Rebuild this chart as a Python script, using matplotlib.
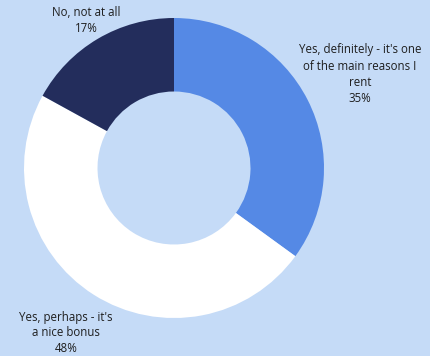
import matplotlib
matplotlib.use("Agg")
import matplotlib.pyplot as plt

categories = ["Yes, definitely - it's one\nof the main reasons I\nrent",
              "Yes, perhaps - it's\na nice bonus",
              "No, not at all"]
values = [35, 48, 17]
colors = ["#5589E5", "#FFFFFF", "#232D5C"]
bg = "#C5DBF7"

fig = plt.figure(figsize=(4.3, 3.56), dpi=100, facecolor=bg)
ax = fig.add_axes([0, 0, 1, 1])
ax.set_facecolor(bg)

cx, cy, R = 174, 356 - 168, 150
ax.pie(values, colors=colors, startangle=90, counterclock=False,
       center=(cx, cy), radius=R, frame=True,
       wedgeprops=dict(width=R * 0.49, edgecolor="none"))
ax.set_xlim(0, 430)
ax.set_ylim(0, 356)
ax.set_aspect("equal")
ax.axis("off")

font = dict(family="Open Sans", fontsize=8.3, color="#1E1E1E", ha="center", va="center", linespacing=1.3)
label_pos = [(360, 356 - 74), (66, 356 - 333), (86, 356 - 21)]
for (x, y), cat, v in zip(label_pos, categories, values):
    ax.text(x, y, f"{cat}\n{v}%", **font)

fig.savefig("out.png", dpi=100, facecolor=bg)
